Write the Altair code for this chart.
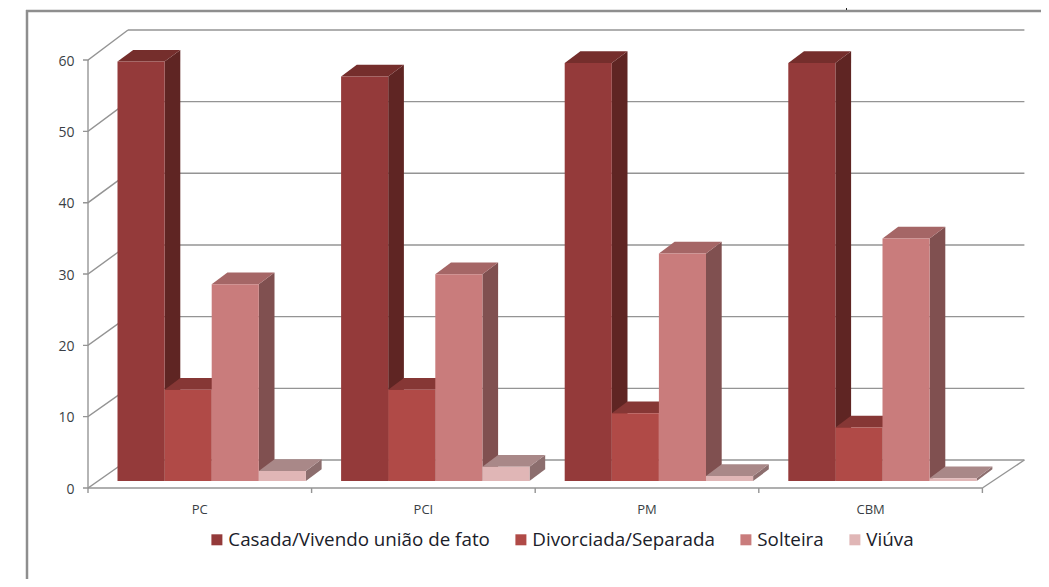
import altair as alt
import pandas as pd

categories = ["PC", "PCI", "PM", "CBM"]
series = ["Casada/Vivendo união de fato", "Divorciada/Separada", "Solteira", "Viúva"]
casada = [58.8, 56.7, 58.6, 58.6]
divorciada = [12.8, 12.8, 9.5, 7.5]
solteira = [27.6, 29.0, 31.9, 34.0]
viuva = [1.4, 2.0, 0.7, 0.4]
values = [casada, divorciada, solteira, viuva]
ticks_y = [0, 10, 20, 30, 40, 50, 60]

front_colors = ["#943A3A", "#B04A47", "#C97C7C", "#E0B6B6"]
side_colors = ["#5F2523", "#6F2F2D", "#805050", "#8C6E6E"]
top_colors = ["#752E2C", "#863735", "#A56666", "#A98888"]
line_color = "#949494"
text_color = "#3A3F46"
FONT = "Open Sans"

# page geometry of the projection
W, H = 1033, 571
PX_X0, SLOT = 88.0, 223.6
PX_Y0, UNIT = 488.0, 7.133
xdom = [(8 - PX_X0) / SLOT, (8 + W - PX_X0) / SLOT]
ydom = [(PX_Y0 - 8 - H) / UNIT, (PX_Y0 - 8) / UNIT]
xs = alt.Scale(domain=xdom, nice=False, zero=False)
ys = alt.Scale(domain=ydom, nice=False, zero=False)

BAR_W = 47.1 / SLOT
BAR_START = 29.5 / SLOT
BAR_DX = 15.7 / SLOT
BAR_DY = 11.7 / UNIT
BASE = 7.0 / UNIT
WALL_DX = 40.0 / SLOT
WALL_DY = 28.0 / UNIT
WALL_K = 71.67 / 71.33
RIGHT_FRONT = 4.0
RIGHT_BACK = RIGHT_FRONT + 42.0 / SLOT


def X(f, **kw):
    return alt.X(f, type="quantitative", scale=xs, axis=None, title=None, **kw)


def Y(f, **kw):
    return alt.Y(f, type="quantitative", scale=ys, axis=None, title=None, stack=None, **kw)


# walls and floor
grid_rows = []
for g in ticks_y:
    back = WALL_DY + g * WALL_K
    grid_rows.append(dict(id=f"b{g}", x=WALL_DX, y=back))
    grid_rows.append(dict(id=f"b{g}", x=RIGHT_BACK, y=back))
    grid_rows.append(dict(id=f"s{g}", x=-5 / SLOT, y=float(g)))
    grid_rows.append(dict(id=f"s{g}", x=0.0, y=float(g)))
    grid_rows.append(dict(id=f"s{g}", x=WALL_DX, y=back))
grid_rows += [
    dict(id="axis", x=0.0, y=0.0), dict(id="axis", x=0.0001, y=60.0),
    dict(id="floor", x=0.0, y=0.0), dict(id="floor", x=RIGHT_FRONT, y=0.0),
    dict(id="fedge", x=RIGHT_FRONT, y=0.0), dict(id="fedge", x=RIGHT_BACK, y=WALL_DY),
]
for i in range(5):
    grid_rows += [dict(id=f"t{i}", x=float(i), y=0.0), dict(id=f"t{i}", x=float(i) + 0.00001, y=-5 / UNIT)]
grid_df = pd.DataFrame(grid_rows)

walls = (
    alt.Chart(grid_df)
    .mark_line(color=line_color, strokeWidth=1.4, interpolate="linear")
    .encode(x=X("x"), y=Y("y"), detail="id:N", order="x:Q")
)

y_labels = (
    alt.Chart(pd.DataFrame({"v": ticks_y, "x": [-13.5 / SLOT] * len(ticks_y)}))
    .mark_text(align="right", baseline="middle", dy=1.5, font=FONT, fontSize=14, color=text_color)
    .encode(x=X("x"), y=Y("v"), text="v:Q")
)
x_labels = (
    alt.Chart(pd.DataFrame({"c": categories, "x": [i + 0.5 for i in range(4)], "y": [-22 / UNIT] * 4}))
    .mark_text(align="center", baseline="middle", font=FONT, fontSize=13, color=text_color)
    .encode(x=X("x"), y=Y("y"), text="c:N")
)

# picture frame
frame_left = alt.Chart(pd.DataFrame({"a": [0]})).mark_rule(color="#8E8E8E", strokeWidth=2.5).encode(
    x=alt.value(19), y=alt.value(2), y2=alt.value(H))
frame_top = alt.Chart(pd.DataFrame({"a": [0]})).mark_rule(color="#8E8E8E", strokeWidth=2.5).encode(
    x=alt.value(18), x2=alt.value(W), y=alt.value(3))
speck = alt.Chart(pd.DataFrame({"a": [0]})).mark_rule(color="#222222", strokeWidth=1).encode(
    x=alt.value(838.5), y=alt.value(0), y2=alt.value(2))

layers = [frame_left, frame_top, speck, walls, y_labels, x_labels]

for s, name in enumerate(series):
    side, top, front = [], [], []
    for c, cat in enumerate(categories):
        v = values[s][c]
        x0 = c + BAR_START + s * BAR_W
        x1 = x0 + BAR_W
        hi = v + BASE
        bid = f"{cat}-{s}"
        side += [dict(bar=bid, x=x1, lo=BASE, hi=hi),
                 dict(bar=bid, x=x1 + BAR_DX, lo=BASE + BAR_DY, hi=hi + BAR_DY)]
        top += [dict(bar=bid, x=x0, lo=hi, hi=hi),
                dict(bar=bid, x=x0 + BAR_DX, lo=hi, hi=hi + BAR_DY),
                dict(bar=bid, x=x1, lo=hi, hi=hi + BAR_DY),
                dict(bar=bid, x=x1 + BAR_DX, lo=hi + BAR_DY, hi=hi + BAR_DY)]
        front.append(dict(serie=name, x=x0, x2=x1, lo=BASE, hi=hi))
    layers.append(alt.Chart(pd.DataFrame(side)).mark_area(color=side_colors[s], orient="vertical").encode(
        x=X("x"), y=Y("lo"), y2="hi:Q", detail="bar:N"))
    layers.append(alt.Chart(pd.DataFrame(top)).mark_area(color=top_colors[s], orient="vertical").encode(
        x=X("x"), y=Y("lo"), y2="hi:Q", detail="bar:N"))
    layers.append(alt.Chart(pd.DataFrame(front)).mark_rect().encode(
        x=X("x"), x2="x2:Q", y=Y("lo"), y2="hi:Q",
        color=alt.Color("serie:N", scale=alt.Scale(domain=series, range=front_colors), title=None,
                        legend=alt.Legend(orient="none", legendX=199.5, legendY=522, direction="horizontal",
                                          columns=4, columnPadding=21, symbolType="square", symbolSize=121,
                                          symbolStrokeWidth=0, labelOffset=2, labelFont=FONT, labelFontSize=18.8,
                                          labelColor="#1A2029", labelLimit=400, padding=0)),
    ))

chart = (
    alt.layer(*layers)
    .properties(width=W, height=H, padding=0, autosize=alt.AutoSizeParams(type="none"), background="white")
    .configure_view(stroke=None)
)

chart.save("out.html", embed_options={"renderer": "svg", "actions": False})
